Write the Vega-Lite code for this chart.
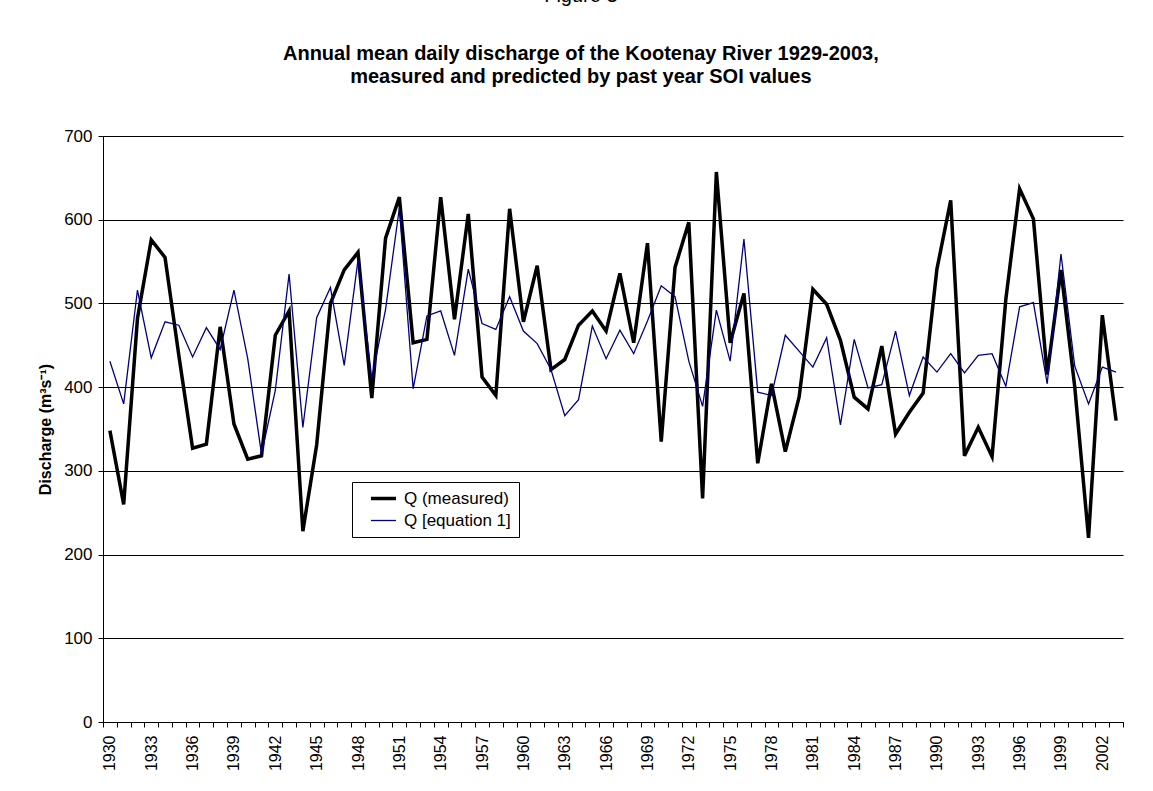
{
  "$schema": "https://vega.github.io/schema/vega-lite/v6.json",
  "autosize": "none",
  "width": 1020,
  "height": 586,
  "padding": {"left": 103, "top": 136, "right": 30, "bottom": 69},
  "background": "white",
  "config": {
    "view": {"stroke": null},
    "font": "Liberation Sans",
    "axis": {"labelFont": "Liberation Sans", "titleFont": "Liberation Sans", "labelColor": "#000", "titleColor": "#000", "domainColor": "#000", "tickColor": "#000"}
  },
  "title": {
    "text": "Figure 3",
    "subtitle": ["Annual mean daily discharge of the Kootenay River 1929-2003,", "measured and predicted by past year SOI values"],
    "anchor": "middle",
    "frame": "bounds",
    "font": "Liberation Sans",
    "fontSize": 20,
    "fontWeight": "normal",
    "color": "#000",
    "subtitleFont": "Liberation Sans",
    "subtitleFontSize": 20,
    "subtitleFontWeight": "bold",
    "subtitleColor": "#000",
    "subtitleLineHeight": 23,
    "subtitlePadding": 38,
    "offset": 40
  },
  "data": {"values": [
    {"year":1930,"m":348,"e":431},{"year":1931,"m":260,"e":380},{"year":1932,"m":482,"e":516},{"year":1933,"m":576,"e":435},
    {"year":1934,"m":555,"e":478},{"year":1935,"m":438,"e":474},{"year":1936,"m":327,"e":436},{"year":1937,"m":332,"e":471},
    {"year":1938,"m":472,"e":445},{"year":1939,"m":356,"e":516},{"year":1940,"m":314,"e":434},{"year":1941,"m":318,"e":320},
    {"year":1942,"m":462,"e":396},{"year":1943,"m":491,"e":535},{"year":1944,"m":228,"e":352},{"year":1945,"m":331,"e":483},
    {"year":1946,"m":500,"e":519},{"year":1947,"m":540,"e":426},{"year":1948,"m":561,"e":552},{"year":1949,"m":387,"e":410},
    {"year":1950,"m":578,"e":493},{"year":1951,"m":627,"e":614},{"year":1952,"m":453,"e":398},{"year":1953,"m":457,"e":485},
    {"year":1954,"m":627,"e":491},{"year":1955,"m":481,"e":438},{"year":1956,"m":607,"e":541},{"year":1957,"m":412,"e":476},
    {"year":1958,"m":390,"e":469},{"year":1959,"m":613,"e":508},{"year":1960,"m":478,"e":467},{"year":1961,"m":545,"e":452},
    {"year":1962,"m":421,"e":421},{"year":1963,"m":433,"e":366},{"year":1964,"m":474,"e":385},{"year":1965,"m":491,"e":473},
    {"year":1966,"m":467,"e":434},{"year":1967,"m":536,"e":468},{"year":1968,"m":453,"e":440},{"year":1969,"m":572,"e":479},
    {"year":1970,"m":335,"e":521},{"year":1971,"m":543,"e":508},{"year":1972,"m":597,"e":431},{"year":1973,"m":267,"e":377},
    {"year":1974,"m":657,"e":492},{"year":1975,"m":453,"e":431},{"year":1976,"m":512,"e":577},{"year":1977,"m":309,"e":394},
    {"year":1978,"m":404,"e":390},{"year":1979,"m":323,"e":462},{"year":1980,"m":388,"e":443},{"year":1981,"m":517,"e":424},
    {"year":1982,"m":499,"e":459},{"year":1983,"m":456,"e":355},{"year":1984,"m":388,"e":457},{"year":1985,"m":374,"e":399},
    {"year":1986,"m":449,"e":403},{"year":1987,"m":344,"e":467},{"year":1988,"m":370,"e":390},{"year":1989,"m":393,"e":436},
    {"year":1990,"m":541,"e":418},{"year":1991,"m":623,"e":440},{"year":1992,"m":318,"e":417},{"year":1993,"m":352,"e":438},
    {"year":1994,"m":317,"e":440},{"year":1995,"m":505,"e":401},{"year":1996,"m":637,"e":496},{"year":1997,"m":601,"e":501},
    {"year":1998,"m":415,"e":404},{"year":1999,"m":540,"e":559},{"year":2000,"m":400,"e":425},{"year":2001,"m":220,"e":380},
    {"year":2002,"m":486,"e":424},{"year":2003,"m":360,"e":418}
  ]},
  "encoding": {
    "x": {
      "field": "year", "type": "ordinal", "bandPosition": 0.5,
      "scale": {"type": "band", "paddingInner": 0, "paddingOuter": 0},
      "axis": {
        "title": null, "grid": false, "tickBand": "extent", "tickSize": 5,
        "labelAngle": 270, "labelFontSize": 16, "labelPadding": 8,
        "labelOverlap": false, "labelFlush": false,
        "labelExpr": "(datum.value - 1930) % 3 == 0 ? datum.label : ''"
      }
    },
    "y": {
      "type": "quantitative",
      "scale": {"domain": [0, 700], "nice": false},
      "axis": {
        "title": "Discharge (m³s⁻¹)", "titleFontSize": 16, "titleFontWeight": "bold", "titlePadding": 10,
        "values": [0, 100, 200, 300, 400, 500, 600, 700],
        "labelFontSize": 17, "labelPadding": 6, "tickSize": 5,
        "grid": true, "gridColor": "#000", "gridWidth": 1
      }
    },
    "color": {
      "datum": "Q (measured)", "type": "nominal",
      "scale": {"domain": ["Q (measured)", "Q [equation 1]"], "range": ["#000000", "#000080"]},
      "legend": {
        "title": null, "orient": "none", "legendX": 249, "legendY": 346,
        "fillColor": "white", "strokeColor": "#000", "padding": 8,
        "symbolType": "stroke", "symbolSize": 625, "symbolOffset": 15,
        "labelFont": "Liberation Sans", "labelFontSize": 17, "labelColor": "#000", "labelOffset": 12,
        "rowPadding": 4,
        "encode": {"symbols": {"update": {"strokeWidth": {"signal": "datum.value === 'Q (measured)' ? 3.5 : 1.3"}}}}
      }
    }
  },
  "layer": [
    {
      "mark": {"type": "line", "strokeWidth": 3.5, "color": "#000"},
      "encoding": {"y": {"field": "m", "type": "quantitative"}, "color": {"datum": "Q (measured)"}}
    },
    {
      "mark": {"type": "line", "strokeWidth": 1.3, "color": "#000080"},
      "encoding": {"y": {"field": "e", "type": "quantitative"}, "color": {"datum": "Q [equation 1]"}}
    }
  ]
}
